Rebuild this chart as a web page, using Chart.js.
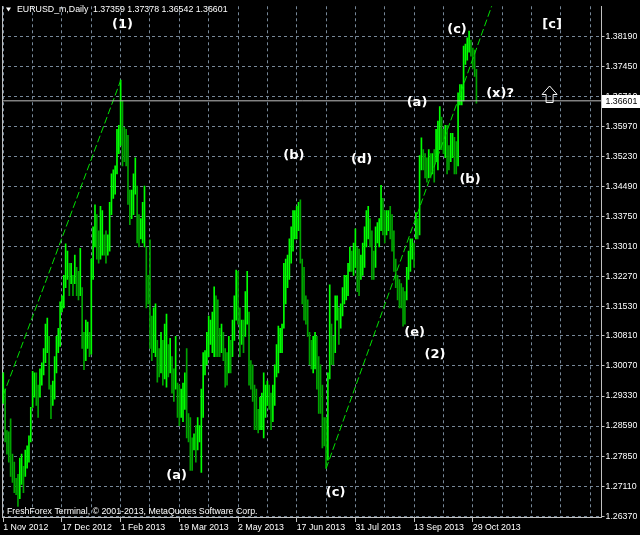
<!DOCTYPE html>
<html>
<head>
<meta charset="utf-8">
<script src="https://cdn.jsdelivr.net/npm/chart.js@4.4.0/dist/chart.umd.min.js"></script>
<style>
  html, body { margin: 0; padding: 0; background: #000; }
</style>
</head>
<body>
<canvas id="chart" width="640" height="535"></canvas>
<script>
// EURUSD_m daily bars, 1 Nov 2012 .. 31 Oct 2013 (one entry per trading day)
const highs = [
  1.2990, 1.2950, 1.2848, 1.2845, 1.2877, 1.2790, 1.2770, 1.2730, 1.2740, 1.2780,
  1.2790, 1.2760, 1.2800, 1.2810, 1.2835, 1.2905, 1.2994, 1.2990, 1.2990, 1.2960,
  1.3000, 1.3015, 1.3050, 1.3110, 1.3125, 1.3080, 1.2960, 1.2970, 1.3030, 1.3080,
  1.3100, 1.3165, 1.3180, 1.3230, 1.3308, 1.3290, 1.3260, 1.3260, 1.3230, 1.3280,
  1.3250, 1.3240, 1.3297, 1.3200, 1.3090, 1.3120, 1.3115, 1.3090, 1.3270, 1.3350,
  1.3404, 1.3380, 1.3340, 1.3400, 1.3390, 1.3330, 1.3340, 1.3330, 1.3410, 1.3480,
  1.3490, 1.3500, 1.3590, 1.3600, 1.3711, 1.3660, 1.3595, 1.3590, 1.3575, 1.3440,
  1.3440, 1.3480, 1.3520, 1.3450, 1.3380, 1.3370, 1.3410, 1.3450, 1.3300, 1.3230,
  1.3318, 1.3130, 1.3150, 1.3160, 1.3070, 1.3050, 1.3090, 1.3070, 1.3110, 1.3135,
  1.3060, 1.3075, 1.3030, 1.3000, 1.3080, 1.2965, 1.2960, 1.2950, 1.2965, 1.2990,
  1.3050, 1.2890, 1.2880, 1.2830, 1.2840, 1.2860, 1.2880, 1.2860, 1.2950, 1.3040,
  1.3045, 1.3090, 1.3130, 1.3120, 1.3140, 1.3202, 1.3180, 1.3170, 1.3100, 1.3110,
  1.3090, 1.3050, 1.3040, 1.3080, 1.3070, 1.3120, 1.3180, 1.3243, 1.3240, 1.3150,
  1.3120, 1.3120, 1.3190, 1.3240, 1.3140, 1.3020, 1.3010, 1.2960, 1.2950, 1.2900,
  1.2930, 1.2940, 1.2990, 1.2960, 1.2970, 1.2960, 1.2940, 1.2960, 1.3010, 1.3060,
  1.3105, 1.3100, 1.3110, 1.3260, 1.3270, 1.3280, 1.3320, 1.3350, 1.3390, 1.3390,
  1.3400, 1.3410, 1.3416, 1.3270, 1.3250, 1.3180, 1.3170, 1.3090, 1.3070, 1.3080,
  1.3090, 1.3080, 1.3030, 1.3010, 1.2960, 1.2880, 1.2880, 1.2990, 1.3207, 1.3110,
  1.3080, 1.3180, 1.3180, 1.3150, 1.3160, 1.3200, 1.3230, 1.3230, 1.3260, 1.3300,
  1.3290, 1.3310, 1.3345, 1.3300, 1.3295, 1.3280, 1.3310, 1.3350, 1.3390, 1.3400,
  1.3370, 1.3340, 1.3290, 1.3350, 1.3360, 1.3370, 1.3452, 1.3420, 1.3390, 1.3390,
  1.3390, 1.3400, 1.3380, 1.3340, 1.3270, 1.3230, 1.3220, 1.3210, 1.3200, 1.3190,
  1.3250, 1.3290, 1.3320, 1.3320, 1.3310, 1.3385, 1.3370, 1.3525, 1.3569, 1.3540,
  1.3530, 1.3520, 1.3540, 1.3530, 1.3530, 1.3540, 1.3590, 1.3610, 1.3646, 1.3620,
  1.3590, 1.3600, 1.3600, 1.3550, 1.3580, 1.3580, 1.3570, 1.3560, 1.3680, 1.3700,
  1.3700, 1.3795, 1.3800, 1.3815, 1.3832, 1.3810, 1.3790, 1.3785, 1.37378
];
const lows = [
  1.2915, 1.2820, 1.2790, 1.2770, 1.2735, 1.2720, 1.2695, 1.2690, 1.2661, 1.2680,
  1.2715, 1.2695, 1.2735, 1.2755, 1.2770, 1.2820, 1.2905, 1.2930, 1.2910, 1.2880,
  1.2930, 1.2960, 1.2985, 1.3015, 1.3040, 1.2950, 1.2877, 1.2910, 1.2925, 1.2990,
  1.3040, 1.3055, 1.3140, 1.3150, 1.3200, 1.3220, 1.3180, 1.3210, 1.3180, 1.3210,
  1.3180, 1.3170, 1.3180, 1.3050, 1.2998, 1.3020, 1.3050, 1.3030, 1.3036, 1.3220,
  1.3300, 1.3270, 1.3260, 1.3270, 1.3280, 1.3280, 1.3260, 1.3280, 1.3290, 1.3380,
  1.3420, 1.3430, 1.3480, 1.3530, 1.3550, 1.3500, 1.3510, 1.3500, 1.3405, 1.3355,
  1.3370, 1.3380, 1.3430, 1.3310, 1.3300, 1.3320, 1.3310, 1.3300, 1.3150, 1.3160,
  1.3050, 1.3020, 1.3040, 1.3030, 1.2967, 1.2980, 1.2990, 1.2960, 1.2975, 1.2955,
  1.2980, 1.2990, 1.2940, 1.2920, 1.2950, 1.2880, 1.2860, 1.2880, 1.2870, 1.2900,
  1.2830, 1.2820, 1.2750, 1.2750, 1.2800, 1.2770, 1.2800, 1.2820, 1.2745, 1.2880,
  1.2985, 1.3010, 1.3030, 1.3060, 1.3040, 1.3030, 1.3030, 1.3030, 1.3030, 1.3040,
  1.3020, 1.2955, 1.2960, 1.2990, 1.2990, 1.3030, 1.3070, 1.3120, 1.3110, 1.3030,
  1.3060, 1.3040, 1.3080, 1.3110, 1.2960, 1.2950, 1.2920, 1.2850, 1.2850, 1.2842,
  1.2850, 1.2850, 1.2830, 1.2880, 1.2910, 1.2900, 1.2850, 1.2870, 1.2910, 1.2980,
  1.2990, 1.3040, 1.3040, 1.3100, 1.3160, 1.3200, 1.3220, 1.3260, 1.3290, 1.3320,
  1.3320, 1.3340, 1.3260, 1.3160, 1.3120, 1.3110, 1.3080, 1.3010, 1.3000, 1.2990,
  1.3000, 1.2950, 1.2890, 1.2890, 1.2805, 1.2810, 1.2755, 1.2775, 1.2975, 1.3010,
  1.3010, 1.3040, 1.3120, 1.3060, 1.3100, 1.3130, 1.3160, 1.3170, 1.3180, 1.3240,
  1.3240, 1.3230, 1.3250, 1.3190, 1.3180, 1.3220, 1.3230, 1.3250, 1.3300, 1.3320,
  1.3300, 1.3220, 1.3220, 1.3250, 1.3310, 1.3300, 1.3340, 1.3330, 1.3310, 1.3330,
  1.3340, 1.3320, 1.3290, 1.3240, 1.3200, 1.3170, 1.3150, 1.3150, 1.3105, 1.3110,
  1.3170, 1.3220, 1.3240, 1.3270, 1.3250, 1.3320, 1.3320, 1.3330, 1.3490, 1.3490,
  1.3470, 1.3460, 1.3470, 1.3470, 1.3480, 1.3460, 1.3510, 1.3490, 1.3540, 1.3540,
  1.3530, 1.3520, 1.3480, 1.3490, 1.3510, 1.3520, 1.3480, 1.3480, 1.3500, 1.3650,
  1.3650, 1.3660, 1.3750, 1.3760, 1.3780, 1.3770, 1.3740, 1.3720, 1.36542
];
const lastOpen = 1.37359;
const lastClose = 1.36601;

// date labels every 32 bars, grid every 16 bars
const dateLabels = ['1 Nov 2012', '17 Dec 2012', '1 Feb 2013', '19 Mar 2013', '2 May 2013',
  '17 Jun 2013', '31 Jul 2013', '13 Sep 2013', '29 Oct 2013'];
const priceTicks = [1.26370, 1.27110, 1.27850, 1.28590, 1.29330, 1.30070, 1.30810, 1.31530,
  1.32270, 1.33010, 1.33750, 1.34490, 1.35230, 1.35970, 1.36710, 1.37450, 1.38190];

// trend lines (bar index, price)
const trendLeft = [[0, 1.2935], [64, 1.3710]];
const trendRight = [[176, 1.2754], [280, 1.4066]];

// wave marks (text, bar index, price)
const waveLabels = [
  ['(1)', 65.0, 1.3848], ['(a)', 94.5, 1.2737], ['(b)', 158.5, 1.3524],
  ['(c)', 181.2, 1.2695], ['(d)', 195.4, 1.3515], ['(e)', 224.3, 1.3089],
  ['(2)', 235.4, 1.3034], ['(a)', 225.6, 1.3655], ['(b)', 254.5, 1.3466],
  ['(c)', 247.4, 1.3835], ['(x)?', 270.9, 1.3678], ['[c]', 299.3, 1.3847]
];
const arrowAt = [297.9, 1.3677];

const textFont = '8.8px "Liberation Sans", Arial, sans-serif';

const overlay = {
  id: 'overlay',
  beforeDraw(chart) {
    const c = chart.ctx;
    c.save();
    c.fillStyle = '#000';
    c.fillRect(0, 0, chart.width, chart.height);
    c.restore();
  },
  afterDraw(chart) {
    const c = chart.ctx;
    const xs = chart.scales.x, ys = chart.scales.y;
    c.save();
    // header
    c.fillStyle = '#fff';
    c.beginPath();
    c.moveTo(6, 7.5); c.lineTo(11, 7.5); c.lineTo(8.5, 11.5); c.closePath();
    c.fill();
    c.font = textFont;
    c.textBaseline = 'middle';
    c.textAlign = 'left';
    const n = highs.length - 1;
    c.fillText('EURUSD_m,Daily', 17, 10);
    c.fillText([lastOpen, highs[n], lows[n], lastClose].map(v => v.toFixed(5)).join(' '), 93, 10);
    c.fillText('FreshForex Terminal, \u00a9 2001-2013, MetaQuotes Software Corp.', 7, 511.5);

    // wave labels
    c.font = 'bold 13px "DejaVu Sans", sans-serif';
    c.textAlign = 'center';
    waveLabels.forEach(([t, i, p]) => {
      c.fillText(t, xs.getPixelForValue(i), ys.getPixelForValue(p));
    });

    // hollow up arrow
    const ax = xs.getPixelForValue(arrowAt[0]), ay = ys.getPixelForValue(arrowAt[1]);
    c.strokeStyle = '#fff';
    c.lineWidth = 1;
    c.beginPath();
    c.moveTo(ax - 3.5, ay + 8.5);
    c.lineTo(ax - 3.5, ay + 0.5);
    c.lineTo(ax - 7.5, ay + 0.5);
    c.lineTo(ax, ay - 8);
    c.lineTo(ax + 7.5, ay + 0.5);
    c.lineTo(ax + 3.5, ay + 0.5);
    c.lineTo(ax + 3.5, ay + 8.5);
    c.closePath();
    c.stroke();

    // current price box on the axis
    const py = Math.round(ys.getPixelForValue(lastClose));
    c.fillStyle = '#fff';
    c.fillRect(602, py - 6, 38, 13);
    c.fillStyle = '#000';
    c.font = textFont;
    c.textAlign = 'left';
    c.fillText(lastClose.toFixed(5), 605.5, py + 0.5);
    c.restore();
  }
};

const barData = highs.map((h, i) => ({ x: i, y: [lows[i], h] }));
// brighter green for bars whose midpoint rose, darker when it fell
const barColors = highs.map((h, i) => {
  if (i === 0) return '#00ff00';
  return (h + lows[i]) >= (highs[i - 1] + lows[i - 1]) ? '#00ff00' : '#00a400';
});
const pts = arr => arr.map(([x, y]) => ({ x, y }));

const gridCol = '#778899';
const axisCol = '#c0c0c0';
const trendCol = '#00e000';

new Chart(document.getElementById('chart').getContext('2d'), {
  type: 'bar',
  data: {
    datasets: [
      {
        type: 'bar',
        data: barData,
        backgroundColor: barColors,
        borderWidth: 0,
        barThickness: 1,
        grouped: false,
        order: 2
      },
      {
        type: 'line',
        data: pts(trendLeft),
        borderColor: trendCol,
        borderWidth: 1,
        borderDash: [7, 3],
        pointRadius: 0,
        order: 1
      },
      {
        type: 'line',
        data: pts(trendRight),
        borderColor: trendCol,
        borderWidth: 1,
        borderDash: [7, 3],
        pointRadius: 0,
        order: 1
      },
      {
        type: 'line',
        data: [{ x: -1, y: lastClose }, { x: 330, y: lastClose }],
        borderColor: axisCol,
        borderWidth: 1,
        pointRadius: 0,
        order: 0
      }
    ]
  },
  options: {
    responsive: false,
    animation: false,
    events: [],
    layout: { padding: { top: 2, left: 0, right: 0, bottom: 0 } },
    plugins: { legend: { display: false }, tooltip: { enabled: false } },
    scales: {
      x: {
        type: 'linear',
        min: -0.7,
        max: 326.2,
        offset: false,
        afterFit: s => { s.height = 18; },
        afterBuildTicks: s => {
          const t = [];
          for (let v = 0; v <= 320; v += 16) t.push({ value: v });
          s.ticks = t;
        },
        ticks: {
          autoSkip: false,
          maxRotation: 0,
          align: 'start',
          padding: 0,
          color: '#fff',
          font: { family: '"Liberation Sans", Arial, sans-serif', size: 8.8 },
          callback: v => (v % 32 === 0 && v / 32 < dateLabels.length) ? dateLabels[v / 32] : ''
        },
        grid: {
          color: gridCol,
          offset: false,
          tickLength: 5,
          tickColor: ctx => (ctx.tick && ctx.tick.value % 32 === 0 && ctx.tick.value <= 256) ? axisCol : 'rgba(0,0,0,0)'
        },
        border: { color: axisCol, dash: [3, 3] }
      },
      y: {
        type: 'linear',
        position: 'right',
        min: 1.2635,
        max: 1.3893,
        afterFit: s => { s.width = 38.5; },
        afterBuildTicks: s => { s.ticks = priceTicks.map(v => ({ value: v })); },
        ticks: {
          padding: 1,
          color: '#fff',
          font: { family: '"Liberation Sans", Arial, sans-serif', size: 8.8 },
          callback: v => v.toFixed(5)
        },
        grid: { color: gridCol, tickLength: 3, tickColor: axisCol },
        border: { color: axisCol, dash: [3, 3] }
      },
      yLeft: {
        type: 'linear',
        axis: 'y',
        position: 'left',
        min: 0,
        max: 1,
        afterFit: s => { s.width = 2; },
        ticks: { display: false },
        grid: { drawOnChartArea: false, drawTicks: false },
        border: { color: axisCol }
      }
    }
  },
  plugins: [overlay]
});
</script>
</body>
</html>
